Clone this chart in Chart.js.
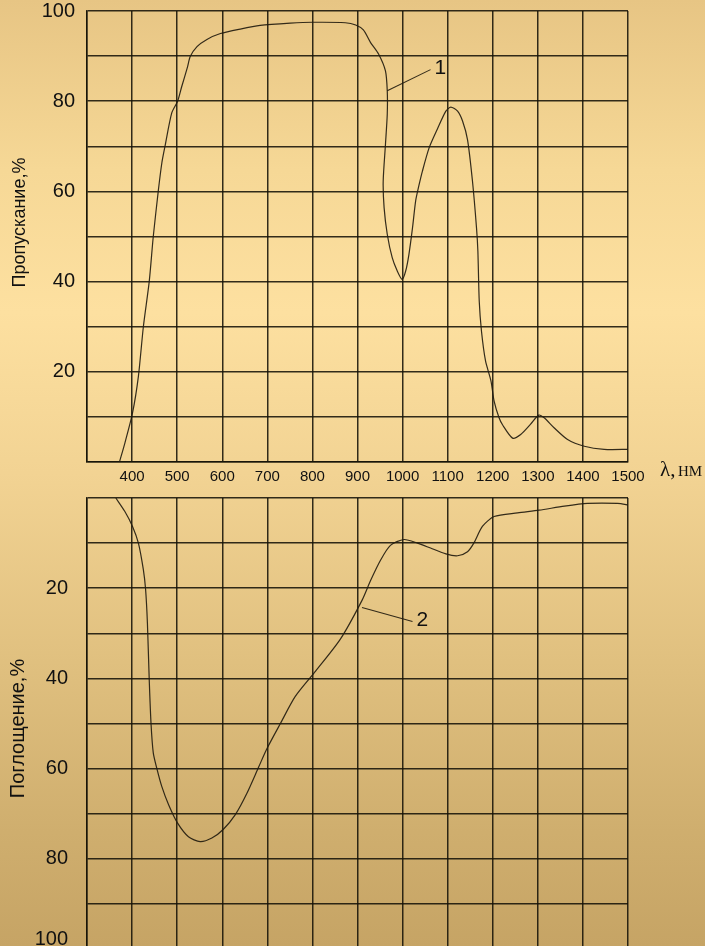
<!DOCTYPE html>
<html>
<head>
<meta charset="utf-8">
<script src="https://cdn.jsdelivr.net/npm/chart.js@4"></script>
<style>
  html, body { margin:0; padding:0; width:705px; height:946px; overflow:hidden; }
  body { background: linear-gradient(to bottom, #e7c584 0%, #f6d896 18%, #fde0a0 33%, #f2d393 50%, #e0c07f 70%, #cfae6e 88%, #c6a465 100%); position:relative; }
  .wrap { position:absolute; left:0; width:705px; }
  #w1 { top:0px; height:490px; }
  #w2 { top:484px; height:480px; }
</style>
</head>
<body>
<div class="wrap" id="w1"><canvas id="c1"></canvas></div>
<div class="wrap" id="w2"><canvas id="c2"></canvas></div>
<script>
// ---- data ----
const xTicks = [400, 500, 600, 700, 800, 900, 1000, 1100, 1200, 1300, 1400, 1500];
const yTicks = [20, 40, 60, 80, 100];

// curve 1: transmission, %
const wavelength1 = [372, 384, 401, 414, 425, 438, 447, 458, 466, 473, 488, 501, 510, 523, 529, 544, 566, 596, 640, 684, 751, 800, 873, 896, 913, 929, 947, 962, 966, 966, 962, 957, 959, 966, 977, 988, 999, 1007, 1014, 1022, 1029, 1036, 1044, 1059, 1077, 1096, 1107, 1122, 1133, 1144, 1155, 1164, 1167, 1170, 1175, 1184, 1196, 1203, 1214, 1222, 1244, 1262, 1284, 1302, 1314, 1336, 1366, 1403, 1447, 1503];
const transmission = [0, 4.2, 10.9, 19, 30, 40, 50, 60, 66.3, 70, 77.4, 80, 83.2, 87.6, 89.9, 92.1, 93.7, 95, 96, 96.8, 97.3, 97.5, 97.4, 96.9, 95.8, 93, 90.4, 86.7, 82.3, 77.1, 70.4, 62.3, 56.4, 50.5, 45.3, 42.4, 40.5, 42.4, 46, 51.9, 57.9, 61.2, 64.5, 69.7, 73.8, 77.8, 78.7, 77.8, 75.6, 71.5, 62.3, 51.9, 46.8, 35.7, 29, 22.4, 18, 13.5, 9.8, 8.2, 5.3, 6.1, 8.4, 10.4, 9.8, 7.6, 5.0, 3.5, 2.8, 2.8];

// curve 2: absorption, %
const wavelength2 = [364, 384, 401, 414, 425, 430, 434, 438, 442, 447, 455, 466, 481, 501, 525, 551, 577, 602, 629, 655, 681, 699, 729, 762, 807, 862, 910, 929, 951, 973, 1003, 1033, 1062, 1096, 1122, 1144, 1158, 1177, 1203, 1255, 1303, 1359, 1410, 1477, 1503];
const absorption = [0, 3, 6.3, 10, 15.9, 20.3, 27.7, 40.2, 50, 56.5, 60, 64, 68, 72.1, 75.1, 76.2, 75.4, 73.5, 70.2, 65.4, 59.6, 55.6, 50, 44, 38.4, 31.3, 22.7, 18.3, 13.8, 10.5, 9.2, 10, 11.1, 12.4, 12.8, 11.9, 10, 6.3, 4.1, 3.3, 2.7, 1.8, 1.2, 1.2, 1.6];

// curve markers: [curve point x, y, label anchor x, y, label]
const marker1 = [966, 82.3, 1062, 87, "1"];
const marker2 = [910, 24.3, 1022, 27.4, "2"];

// ---- styling ----
const GRID = 'rgba(22,18,8,0.88)';
const CURVE = 'rgba(35,28,15,0.92)';
const SANS = "'Liberation Sans', Arial, sans-serif";

function pts(xs, ys) { return xs.map((x, i) => ({ x: x, y: ys[i] })); }

function markerPlugin(m) {
  return {
    id: 'marker',
    afterDatasetsDraw(chart) {
      const { ctx, scales: { x, y } } = chart;
      const x0 = x.getPixelForValue(m[0]), y0 = y.getPixelForValue(m[1]);
      const x1 = x.getPixelForValue(m[2]), y1 = y.getPixelForValue(m[3]);
      ctx.save();
      ctx.strokeStyle = CURVE; ctx.lineWidth = 1.1;
      ctx.beginPath(); ctx.moveTo(x0, y0); ctx.lineTo(x1, y1); ctx.stroke();
      ctx.fillStyle = '#111';
      ctx.font = "21px " + SANS;
      ctx.textAlign = 'left'; ctx.textBaseline = 'middle';
      ctx.fillText(m[4], x1 + 4, y1 - 1);
      ctx.restore();
    }
  };
}

function titlePlugin(text, size, cx, dy) {
  return {
    id: 'ytitle',
    afterDraw(chart) {
      const { ctx, chartArea } = chart;
      ctx.save();
      ctx.translate(cx, (chartArea.top + chartArea.bottom) / 2 + dy);
      ctx.rotate(-Math.PI / 2);
      ctx.fillStyle = '#111';
      ctx.font = size + "px " + SANS;
      ctx.textAlign = 'center'; ctx.textBaseline = 'middle';
      ctx.fillText(text, 0, 0);
      ctx.restore();
    }
  };
}

// bottom panel: its last tick label (100) sits a little above the frame edge, as in the reference
const lastTickPlugin = {
  id: 'lastTick',
  afterDraw(chart) {
    const { ctx, scales: { y } } = chart;
    const v = yTicks[yTicks.length - 1];
    ctx.save();
    ctx.fillStyle = '#111';
    ctx.font = "20px " + SANS;
    ctx.textAlign = 'right'; ctx.textBaseline = 'middle';
    ctx.fillText(String(v), y.right - 19, y.getPixelForValue(v) - 10);
    ctx.restore();
  }
};

const lambdaPlugin = {
  id: 'lambda',
  afterDraw(chart) {
    const { ctx, chartArea } = chart;
    ctx.save();
    ctx.fillStyle = '#111';
    ctx.textBaseline = 'middle'; ctx.textAlign = 'left';
    ctx.font = "21px 'Liberation Serif', 'DejaVu Serif', serif";
    ctx.fillText('λ,', chartArea.right + 32, chartArea.bottom + 8);
    ctx.font = "15px 'Liberation Serif', 'DejaVu Serif', serif";
    ctx.fillText('НМ', chartArea.right + 50, chartArea.bottom + 10);
    ctx.restore();
  }
};

function makeChart(id, data, opts) {
  return new Chart(document.getElementById(id), {
    type: 'line',
    data: { datasets: [{ data: data, borderColor: CURVE, borderWidth: 1.2, pointRadius: 0, tension: 0.25, fill: false }] },
    options: {
      responsive: true, maintainAspectRatio: false, animation: false,
      layout: { padding: opts.padding },
      plugins: { legend: { display: false }, tooltip: { enabled: false } },
      scales: {
        x: {
          type: 'linear', min: 300, max: 1500,
          afterBuildTicks: s => { s.ticks = [300].concat(xTicks).map(v => ({ value: v })); },
          afterFit: s => { s.height = opts.xHeight; s.paddingLeft = 0; s.paddingRight = 0; },
          grid: { color: GRID, lineWidth: 1.5, drawTicks: false },
          border: { color: GRID, width: 1.5 },
          ticks: { display: opts.showX, padding: 6, color: '#111', font: { family: SANS, size: 15 }, maxRotation: 0, autoSkip: false,
                   callback: v => (v >= 400 ? String(v) : '') }
        },
        y: {
          min: 0, max: 100, reverse: opts.reverse,
          afterBuildTicks: s => { const t = []; for (let v = 0; v <= 100; v += 10) t.push({ value: v }); s.ticks = t; },
          afterFit: s => { s.width = 87; s.paddingTop = 0; s.paddingBottom = 0; },
          grid: { color: GRID, lineWidth: 1.5, drawTicks: false },
          border: { color: GRID, width: 1.5 },
          ticks: { padding: opts.yPad, color: '#111', font: { family: SANS, size: 20 }, autoSkip: false,
                   callback: v => (opts.yShown.includes(v) ? String(v) : '') },
          title: { display: false }
        }
      }
    },
    plugins: opts.plugins
  });
}

makeChart('c1', pts(wavelength1, transmission), {
  padding: { left: 0, top: 11, right: 77, bottom: 0 }, xHeight: 28, showX: true, reverse: false,
  yPad: 12, yShown: yTicks, plugins: [markerPlugin(marker1), lambdaPlugin, titlePlugin('Пропускание,%', 18, 20, -14)]
});
makeChart('c2', pts(wavelength2, absorption), {
  padding: { left: 0, top: 14, right: 77, bottom: 15 }, xHeight: 0, showX: false, reverse: true,
  yPad: 19, yShown: yTicks.slice(0, -1), plugins: [markerPlugin(marker2), titlePlugin('Поглощение,%', 20, 18.5, 5), lastTickPlugin]
});
</script>
</body>
</html>
